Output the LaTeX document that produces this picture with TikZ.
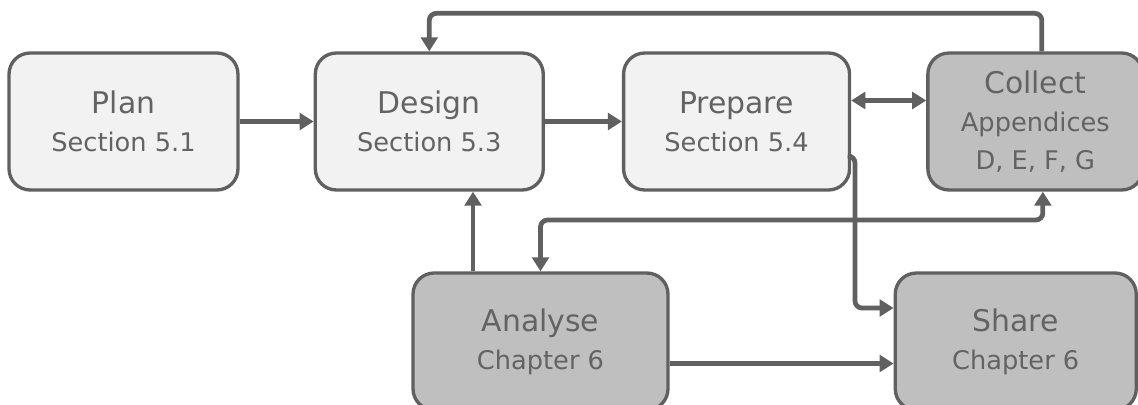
\documentclass[tikz,border=0pt]{standalone}
\usepackage{fontspec}
\setmainfont{DejaVu Sans}
\usetikzlibrary{arrows.meta, positioning, calc}
\definecolor{lightfill}{HTML}{F2F2F2}
\definecolor{darkfill}{HTML}{BFBFBF}
\definecolor{edgegray}{HTML}{606060}
\definecolor{textgray}{HTML}{636363}
\newcommand{\boxtitle}{\fontsize{17pt}{20pt}\selectfont}
\newcommand{\boxsub}{\fontsize{14.6pt}{21.5pt}\selectfont}

\begin{document}
\begin{tikzpicture}[x=0.02cm, y=-0.02cm,
        % --- styles ---
        basebox/.style={
            draw=edgegray, line width=1.9pt, rounded corners=12pt,
            minimum height=2.74cm, align=center, text=textgray, inner sep=2pt,
            font=\boxsub
        },
        lightbox/.style={basebox, fill=lightfill},
        darkbox/.style={basebox, fill=darkfill},
        arrow/.style={draw=edgegray, line width=2.7pt, rounded corners=4pt,
            -{Triangle[length=8pt, width=9.5pt]}},
        biarrow/.style={arrow, {Triangle[length=8pt, width=9.5pt]}-{Triangle[length=8pt, width=9.5pt]}}
    ]
    \useasboundingbox (0,0) rectangle (1138,405);

    % --- top row ---
    \node[lightbox, minimum width=4.58cm] (plan) at (123.5,121.5) {
        \boxtitle Plan\\ Section 5.1
    };
    \node[lightbox, minimum width=4.56cm, right=1.48cm of plan] (design) {
        \boxtitle Design\\ Section 5.3
    };
    \node[lightbox, minimum width=4.52cm, right=1.54cm of design] (prepare) {
        \boxtitle Prepare\\ Section 5.4
    };
    \node[darkbox, minimum width=4.3cm, right=1.5cm of prepare] (collect) {
        \boxtitle Collect\\ Appendices\\ D, E, F, G
    };

    % --- bottom row (cut off by the page edge) ---
    \node[darkbox, minimum width=5.1cm] (analyse) at (540.5,341.5) {
        \boxtitle Analyse\\ Chapter 6
    };
    \node[darkbox, minimum width=4.82cm, right=4.48cm of analyse] (share) {
        \boxtitle Share\\ Chapter 6
    };

    % --- connections ---
    \draw[arrow] (plan.east) -- (design.west);
    \draw[arrow] (design.east) -- (prepare.west);
    \draw[biarrow] ([yshift=0.42cm]prepare.east) -- ([yshift=0.42cm]prepare.east -| collect.west);

    % feedback loop over the top
    \draw[arrow] ([xshift=0.13cm]collect.north) -- ++(0,-38) -| (design.north);
    \draw[arrow] ([xshift=-1.35cm]analyse.north) -- ([xshift=-1.35cm]analyse.north |- design.south);

    % prepare out to share, with a branch to analyse and collect
    \coordinate (junc) at (855,220);
    \draw[arrow] ([yshift=-0.69cm]prepare.east) -| (junc) |- ([yshift=0.67cm]share.west);
    \draw[arrow] (junc) -| (analyse.north);
    \draw[arrow] (junc) -| ([xshift=0.15cm]collect.south);

    \draw[arrow] ([yshift=-0.44cm]analyse.east) -- ([yshift=-0.44cm]share.west);

\end{tikzpicture}
\end{document}
